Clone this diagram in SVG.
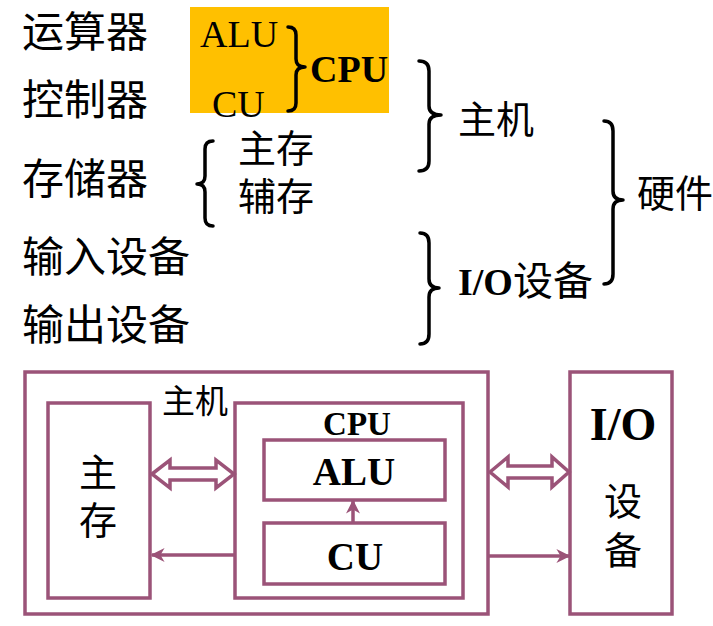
<svg xmlns="http://www.w3.org/2000/svg" width="713" height="626" viewBox="0 0 713 626">
<style>
.cjk{font-family:"Noto Sans CJK SC","Noto Sans",sans-serif;fill:#000}
.ser{font-family:"Liberation Serif","Times New Roman",serif;fill:#000}
.b{font-weight:bold}
.box{fill:none;stroke:#9b5378;stroke-width:3.5}
.ln{fill:none;stroke:#9b5378;stroke-width:3.5}
.dbl{fill:#fff;stroke:#9b5378;stroke-width:3.5;stroke-linejoin:miter}
.brace{fill:none;stroke:#000;stroke-width:3.5;stroke-linecap:round;stroke-linejoin:round}
</style>
<defs>
<marker id="ah" viewBox="0 0 10 10" refX="9" refY="5" markerWidth="4" markerHeight="4" orient="auto" markerUnits="strokeWidth">
<path d="M0,0 L10,5 L0,10 L3,5 z" fill="#9b5378"/>
</marker>
</defs>
<rect width="713" height="626" fill="#fff"/>

<g id="top-list">
<text class="cjk" x="22" y="47" font-size="42">运算器</text>
<text class="cjk" x="22" y="115" font-size="42">控制器</text>
<text class="cjk" x="22" y="194" font-size="42">存储器</text>
<text class="cjk" x="22" y="272" font-size="42">输入设备</text>
<text class="cjk" x="22" y="340" font-size="42">输出设备</text>
</g>

<g id="cpu-group">
<rect x="190" y="7" width="199" height="106" fill="#ffc000"/>
<text class="ser" x="200" y="47" font-size="38">ALU</text>
<text class="ser" x="212" y="117" font-size="38">CU</text>
<path class="brace" d="M288,27 Q296,27 296,35 L296,59 Q296,67 305,67 Q296,67 296,75 L296,103 Q296,111 288,111"/>
<text class="ser b" x="310" y="82" font-size="38">CPU</text>
</g>

<g id="storage-group">
<path class="brace" d="M213,141 Q205,141 205,149 L205,176 Q205,184 197,184 Q205,184 205,192 L205,218 Q205,226 213,226"/>
<text class="cjk" x="238" y="162" font-size="38">主存</text>
<text class="cjk" x="238" y="210" font-size="38">辅存</text>
</g>

<g id="host-group">
<path class="brace" d="M419,61 Q429,61 429,71 L429,106 Q429,115 441,115 Q429,115 429,124 L429,161 Q429,171 419,171"/>
<text class="cjk" x="458" y="133" font-size="38">主机</text>
</g>

<g id="io-group">
<path class="brace" d="M420,233 Q429,233 429,243 L429,279 Q429,288 439,288 Q429,288 429,297 L429,334 Q429,344 420,344"/>
<text x="458" y="295"><tspan class="ser b" font-size="38">I/O</tspan><tspan class="cjk" font-size="40">设备</tspan></text>
</g>

<g id="hardware-group">
<path class="brace" d="M604,121 Q613,121 613,131 L613,191 Q613,200 623,200 Q613,200 613,209 L613,274 Q613,284 604,284"/>
<text class="cjk" x="637" y="207" font-size="38">硬件</text>
</g>

<g id="host-box">
<rect class="box" x="25" y="372" width="463" height="242"/>
<text class="cjk" x="162" y="413" font-size="33">主机</text>
</g>
<g id="main-memory">
<rect class="box" x="48" y="403" width="102" height="195"/>
<text class="cjk" x="98" y="486" font-size="38" text-anchor="middle">主</text>
<text class="cjk" x="98" y="534" font-size="38" text-anchor="middle">存</text>
</g>
<g id="cpu-box">
<rect class="box" x="235" y="403" width="228" height="195"/>
<text class="ser b" x="357" y="435" font-size="33" text-anchor="middle">CPU</text>
</g>
<g id="alu-box">
<rect class="box" x="264" y="440" width="181" height="60"/>
<text class="ser b" x="354" y="485" font-size="39" text-anchor="middle">ALU</text>
</g>
<g id="cu-box">
<rect class="box" x="264" y="523" width="181" height="61"/>
<text class="ser b" x="355" y="570" font-size="39" text-anchor="middle">CU</text>
</g>
<g id="io-box">
<rect class="box" x="570" y="372" width="102" height="242"/>
<text class="ser b" x="623" y="440" font-size="46" text-anchor="middle">I/O</text>
<text class="cjk" x="623" y="515" font-size="38" text-anchor="middle">设</text>
<text class="cjk" x="623" y="564" font-size="38" text-anchor="middle">备</text>
</g>

<g id="connectors">
<polygon class="dbl" points="152,474 170,460 170,468 216,468 216,460 234,474 216,488 216,480 170,480 170,488"/>
<polygon class="dbl" points="490,472 508,457 508,466 552,466 552,457 569,472 552,487 552,478 508,478 508,487"/>
<line class="ln" x1="235" y1="555" x2="152" y2="555" marker-end="url(#ah)"/>
<line class="ln" x1="488" y1="556" x2="569" y2="556" marker-end="url(#ah)"/>
<line class="ln" x1="353" y1="523" x2="353" y2="501" stroke-width="2.5" marker-end="url(#ah)"/>
</g>
</svg>
